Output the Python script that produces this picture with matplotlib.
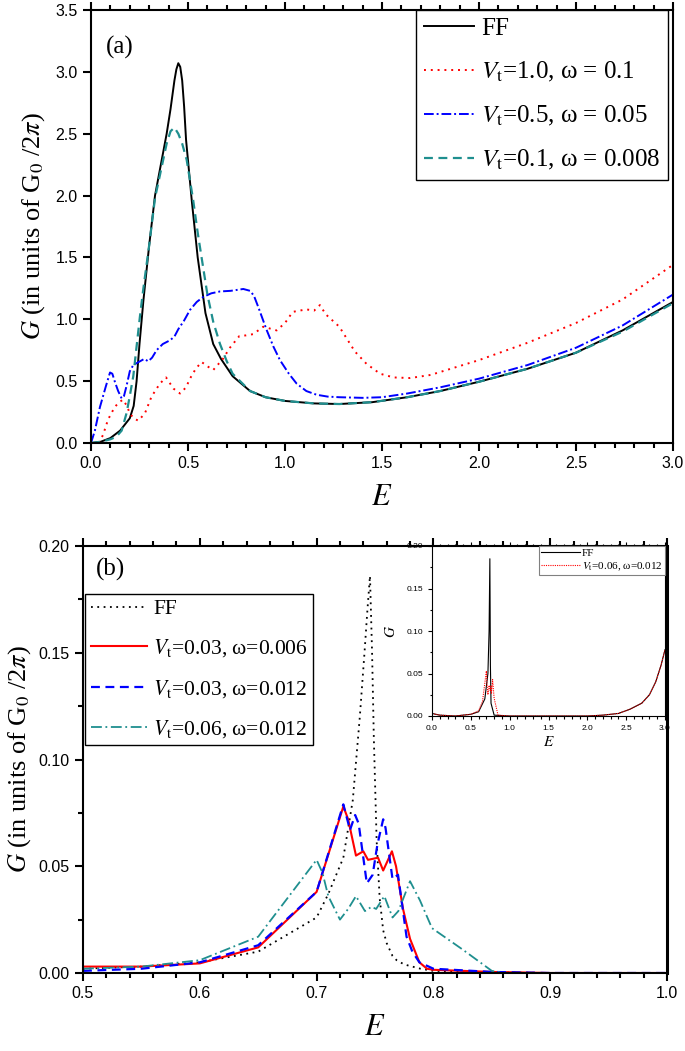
import matplotlib
matplotlib.use("Agg")
import matplotlib.pyplot as plt
from matplotlib.ticker import MultipleLocator, FormatStrFormatter

plt.rcParams['font.family'] = ['Liberation Sans', 'DejaVu Sans']
plt.rcParams['mathtext.fontset'] = 'stix'

# ---- panel (a) data ----
E_ff_a = [0.0, 0.05, 0.1, 0.15, 0.2, 0.22, 0.235, 0.25, 0.27, 0.3, 0.33, 0.36, 0.39, 0.41, 0.43,
          0.44, 0.45, 0.46, 0.47, 0.48, 0.49, 0.52, 0.55, 0.59, 0.63, 0.67, 0.73, 0.82, 0.9, 1.0,
          1.15, 1.28, 1.45, 1.63, 1.8, 2.0, 2.25, 2.5, 2.74, 3.0]
G_ff_a = [0.0, 0.01, 0.04, 0.1, 0.2, 0.3, 0.5, 0.8, 1.15, 1.6, 2.0, 2.25, 2.5, 2.7, 2.93,
          3.02, 3.07, 3.04, 2.93, 2.72, 2.45, 1.95, 1.5, 1.05, 0.8, 0.68, 0.54, 0.42, 0.37, 0.34,
          0.32, 0.315, 0.33, 0.37, 0.42, 0.495, 0.6, 0.73, 0.91, 1.14]

E_r_a = [0.04, 0.062, 0.088, 0.122, 0.145, 0.165, 0.185, 0.2, 0.22, 0.244, 0.278, 0.312, 0.355,
         0.387, 0.425, 0.459, 0.49, 0.51, 0.54, 0.57, 0.6, 0.63, 0.68, 0.716, 0.765, 0.8, 0.836,
         0.888, 0.957, 1.0, 1.04, 1.11, 1.15, 1.18, 1.21, 1.28, 1.36, 1.42, 1.49, 1.56, 1.645,
         1.75, 2.0, 2.25, 2.5, 2.74, 3.0]
G_r_a = [0.0, 0.065, 0.19, 0.29, 0.33, 0.35, 0.3, 0.24, 0.2, 0.18, 0.24, 0.375, 0.48,
         0.53, 0.44, 0.40, 0.45, 0.52, 0.6, 0.655, 0.62, 0.59, 0.68, 0.77, 0.865, 0.87, 0.88,
         0.94, 0.91, 0.97, 1.06, 1.08, 1.07, 1.115, 1.04, 0.94, 0.74, 0.64, 0.56, 0.53, 0.525,
         0.55, 0.67, 0.81, 0.97, 1.16, 1.44]

E_b_a = [0.0, 0.02, 0.046, 0.075, 0.098, 0.11, 0.124, 0.14, 0.158, 0.17, 0.183, 0.2, 0.218,
         0.252, 0.275, 0.295, 0.315, 0.338, 0.37, 0.407, 0.43, 0.45, 0.48, 0.51, 0.545, 0.578,
         0.62, 0.665, 0.72, 0.785, 0.82, 0.84, 0.862, 0.905, 0.94, 0.974, 1.02, 1.06, 1.11,
         1.163, 1.22, 1.28, 1.4, 1.5, 1.63, 1.8, 2.0, 2.25, 2.5, 2.74, 3.0]
G_b_a = [0.0, 0.1, 0.29, 0.45, 0.57, 0.56, 0.49, 0.42, 0.36, 0.38, 0.46, 0.58, 0.63,
         0.66, 0.68, 0.66, 0.69, 0.75, 0.8, 0.83, 0.86, 0.92, 0.99, 1.075, 1.14, 1.18,
         1.21, 1.225, 1.23, 1.245, 1.23, 1.19, 1.10, 0.915, 0.78, 0.67, 0.56, 0.48, 0.42,
         0.39, 0.375, 0.37, 0.365, 0.37, 0.40, 0.45, 0.52, 0.63, 0.77, 0.95, 1.20]

E_t_a = [0.0, 0.05, 0.1, 0.13, 0.158, 0.183, 0.2, 0.218, 0.235, 0.252, 0.27, 0.3, 0.33, 0.36,
         0.39, 0.41, 0.43, 0.45, 0.47, 0.493, 0.527, 0.55, 0.575, 0.6, 0.63, 0.665, 0.7, 0.73,
         0.82, 0.9, 1.0, 1.15, 1.28, 1.45, 1.63, 1.8, 2.0, 2.25, 2.5, 2.74, 3.0]
G_t_a = [0.0, 0.01, 0.03, 0.05, 0.1, 0.24, 0.38, 0.54, 0.78, 1.02, 1.25, 1.6, 1.98, 2.2,
         2.42, 2.52, 2.55, 2.5, 2.42, 2.29, 1.96, 1.7, 1.45, 1.2, 0.98, 0.8, 0.66, 0.56,
         0.42, 0.37, 0.34, 0.32, 0.315, 0.33, 0.37, 0.42, 0.495, 0.6, 0.73, 0.9, 1.13]

# ---- panel (b) data ----
E_ff_b = [0.5, 0.55, 0.6, 0.65, 0.7, 0.71, 0.7229, 0.731, 0.737, 0.741, 0.7435, 0.7457, 0.7475,
          0.749, 0.7514, 0.754, 0.757, 0.76, 0.765, 0.7685, 0.775, 0.789, 0.8, 0.85, 0.9, 1.0]
G_ff_b = [0.002, 0.003, 0.005, 0.01, 0.026, 0.037, 0.054, 0.081, 0.12, 0.15, 0.17, 0.186, 0.15,
          0.11, 0.062, 0.035, 0.02, 0.014, 0.008, 0.006, 0.004, 0.002, 0.001, 0.0003, 0.0, 0.0]

E_r_b = [0.5, 0.55, 0.6, 0.65, 0.7, 0.7229, 0.727, 0.7337, 0.740, 0.744, 0.7526, 0.757, 0.7645,
         0.768, 0.774, 0.78, 0.788, 0.7945, 0.8, 0.85, 0.9, 1.0]
G_r_b = [0.003, 0.003, 0.0045, 0.012, 0.038, 0.078, 0.072, 0.055, 0.057, 0.053, 0.054, 0.048, 0.057,
         0.05, 0.03, 0.016, 0.005, 0.002, 0.0015, 0.0005, 0.0, 0.0]

E_b_b = [0.5, 0.55, 0.6, 0.65, 0.7, 0.7229, 0.7286, 0.733, 0.736, 0.743, 0.748, 0.752, 0.757,
         0.759, 0.765, 0.7697, 0.777, 0.782, 0.788, 0.8, 0.85, 0.9, 1.0]
G_b_b = [0.001, 0.002, 0.005, 0.013, 0.038, 0.079, 0.067, 0.074, 0.07, 0.042, 0.046, 0.06, 0.072,
         0.068, 0.044, 0.046, 0.017, 0.01, 0.005, 0.002, 0.0005, 0.0, 0.0]

E_t_b = [0.5, 0.55, 0.6, 0.65, 0.7, 0.705, 0.71, 0.72, 0.727, 0.7337, 0.7414, 0.747, 0.751,
         0.758, 0.765, 0.77, 0.78, 0.7885, 0.7988, 0.825, 0.85, 0.86, 1.0]
G_t_b = [0.002, 0.003, 0.006, 0.017, 0.053, 0.047, 0.036, 0.025, 0.03, 0.036, 0.029, 0.031, 0.03,
         0.036, 0.026, 0.029, 0.043, 0.034, 0.021, 0.011, 0.001, 0.0, 0.0]

# ---- inset data ----
E_ff_in = [0.0, 0.1, 0.3, 0.5, 0.6, 0.68, 0.72, 0.735, 0.745, 0.752, 0.76, 0.8, 1.0, 1.5, 2.0,
           2.2, 2.4, 2.55, 2.7, 2.8, 2.88, 2.95, 3.0]
G_ff_in = [0.003, 0.001, 0.0, 0.002, 0.005, 0.02, 0.05, 0.1, 0.185, 0.06, 0.015, 0.001, 0.0, 0.0, 0.0,
           0.001, 0.003, 0.008, 0.015, 0.025, 0.04, 0.06, 0.078]
E_r_in = [0.0, 0.1, 0.3, 0.5, 0.6, 0.65, 0.7, 0.71, 0.72, 0.735, 0.75, 0.76, 0.765, 0.78, 0.8,
          0.825, 0.85, 1.0, 1.5, 2.0, 2.2, 2.4, 2.55, 2.7, 2.8, 2.88, 2.95, 3.0]
G_r_in = [0.003, 0.001, 0.0, 0.002, 0.006, 0.017, 0.053, 0.036, 0.025, 0.036, 0.03, 0.035, 0.026,
          0.043, 0.021, 0.011, 0.001, 0.0, 0.0, 0.0, 0.001, 0.003, 0.008, 0.015, 0.025, 0.04, 0.06, 0.078]

serif = ['Liberation Serif', 'DejaVu Serif']
teal = '#1f8f8f'
ylab = r'$G$ (in units of G$_0$ /2$\pi$)'


def style_axes(ax, xmaj, xmin, ymaj, ymin, lw=1.5):
    ax.xaxis.set_major_locator(MultipleLocator(xmaj))
    ax.xaxis.set_minor_locator(MultipleLocator(xmin))
    ax.yaxis.set_major_locator(MultipleLocator(ymaj))
    if ymin:
        ax.yaxis.set_minor_locator(MultipleLocator(ymin))
    ax.tick_params(which='both', direction='out', top=True, right=False, width=lw)
    ax.tick_params(which='major', length=6, labelsize=11.5)
    ax.tick_params(which='minor', length=3.5)
    for s in ax.spines.values():
        s.set_linewidth(lw)


fig = plt.figure(figsize=(6.85, 10.51), dpi=100)

# ---------------- panel (a) ----------------
ax1 = fig.add_axes([91/685, 1-443/1051, 582/685, 433/1051])
ax1.plot(E_ff_a, G_ff_a, color='black', lw=1.4, label='FF')
ax1.plot(E_r_a, G_r_a, color='red', lw=1.4, ls=(0, (1, 2.5)), label=r'$V_{\rm t}$=1.0, ω = 0.1')
ax1.plot(E_b_a, G_b_a, color='blue', lw=1.4, ls=(0, (5, 1.5, 1, 1.5)), label=r'$V_{\rm t}$=0.5, ω = 0.05')
ax1.plot(E_t_a, G_t_a, color=teal, lw=1.6, ls=(0, (4, 2.5)), label=r'$V_{\rm t}$=0.1, ω = 0.008')
ax1.set_xlim(0, 3.0)
ax1.set_ylim(0, 3.5)
style_axes(ax1, 0.5, 0.1, 0.5, None)
ax1.set_xlabel(r'$E$', fontsize=22, labelpad=8)
ax1.set_ylabel(ylab, fontsize=19, family=serif, labelpad=6)
ax1.text(0.025, 0.9, '(a)', transform=ax1.transAxes, fontsize=18, family=serif)
leg1 = ax1.legend(loc='upper right', bbox_to_anchor=(0.992, 1.0), borderaxespad=0,
                  prop={'family': serif, 'size': 18}, handlelength=2.0, labelspacing=0.8,
                  handletextpad=0.3, borderpad=0.3, fancybox=False, framealpha=1, edgecolor='black')
leg1.get_frame().set_linewidth(1.0)

# ---------------- panel (b) ----------------
ax2 = fig.add_axes([83/685, 1-973/1051, 584/685, 427/1051])
ax2.plot(E_ff_b, G_ff_b, color='black', lw=1.3, ls=(0, (1, 2.5)), label='FF')
ax2.plot(E_r_b, G_r_b, color='red', lw=1.5, label=r'$V_{\rm t}$=0.03, ω=0.006')
ax2.plot(E_b_b, G_b_b, color='blue', lw=1.6, ls=(0, (4, 2.5)), label=r'$V_{\rm t}$=0.03, ω=0.012')
ax2.plot(E_t_b, G_t_b, color=teal, lw=1.3, ls=(0, (6, 2, 1, 2)), label=r'$V_{\rm t}$=0.06, ω=0.012')
ax2.set_xlim(0.5, 1.0)
ax2.set_ylim(0, 0.2)
style_axes(ax2, 0.1, 0.02, 0.05, 0.025)
ax2.yaxis.set_major_formatter(FormatStrFormatter('%.2f'))
ax2.spines['right'].set_linewidth(2.2)
ax2.set_xlabel(r'$E$', fontsize=22, labelpad=8)
ax2.set_ylabel(ylab, fontsize=19, family=serif, labelpad=4)
ax2.text(0.022, 0.93, '(b)', transform=ax2.transAxes, fontsize=18, family=serif)
leg2 = ax2.legend(loc='upper left', bbox_to_anchor=(0.004, 0.888), borderaxespad=0,
                  prop={'family': serif, 'size': 15.5}, handlelength=2.6, labelspacing=0.85,
                  handletextpad=0.3, borderpad=0.25, fancybox=False, framealpha=1, edgecolor='black')
leg2.get_frame().set_linewidth(1.0)

# ---------------- inset ----------------
ax3 = fig.add_axes([432/685, 1-716/1051, 233/685, 170/1051])
ax3.plot(E_ff_in, G_ff_in, color='black', lw=0.8, label='FF')
ax3.plot(E_r_in, G_r_in, color='red', lw=0.8, ls=(0, (1, 1)), label=r'$V_{\rm t}$=0.06, ω=0.012')
ax3.set_xlim(0, 3.0)
ax3.set_ylim(0, 0.2)
ax3.xaxis.set_major_locator(MultipleLocator(0.5))
ax3.xaxis.set_minor_locator(MultipleLocator(0.1))
ax3.yaxis.set_major_locator(MultipleLocator(0.05))
ax3.yaxis.set_minor_locator(MultipleLocator(0.025))
ax3.yaxis.set_major_formatter(FormatStrFormatter('%.2f'))
ax3.tick_params(which='both', direction='out', top=True, width=0.8, labelsize=6)
ax3.tick_params(which='major', length=3)
ax3.tick_params(which='minor', length=1.8)
for s in ax3.spines.values():
    s.set_linewidth(0.8)
ax3.set_xlabel(r'$E$', fontsize=11, labelpad=2)
ax3.set_ylabel(r'$G$', fontsize=11, labelpad=6)
leg3 = ax3.legend(loc='upper right', borderaxespad=0, prop={'family': serif, 'size': 8},
                  handlelength=3.5, labelspacing=0.2, handletextpad=0.2, borderpad=0.2,
                  fancybox=False, framealpha=1, edgecolor='gray')
leg3.get_frame().set_linewidth(0.8)

fig.savefig('out.png', dpi=100)
